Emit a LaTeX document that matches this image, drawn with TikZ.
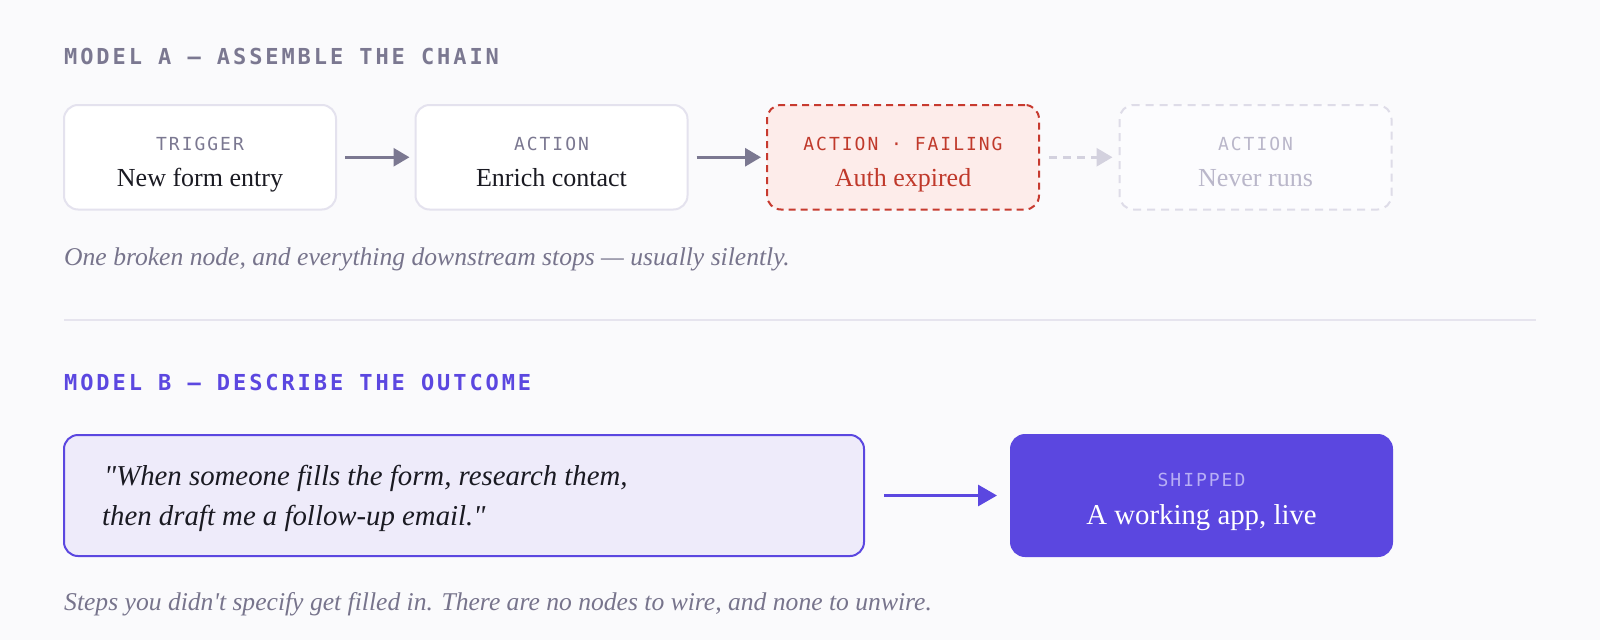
\documentclass[tikz,border=0pt]{standalone}
\usepackage{fontspec}
\setmainfont{Liberation Serif}
\newfontfamily\labfont[LetterSpace=11]{DejaVu Sans Mono}
\newfontfamily\headfont[LetterSpace=13.2]{DejaVu Sans Mono}
\newfontfamily\plainserif[Ligatures=TeXOff]{Liberation Serif}
\usetikzlibrary{arrows.meta}
\definecolor{bgc}{HTML}{FAFAFC}
\definecolor{cardline}{HTML}{E4E2EE}
\definecolor{graytxt}{HTML}{7B7891}
\definecolor{inktxt}{HTML}{1A1A22}
\definecolor{failfill}{HTML}{FDECEA}
\definecolor{failline}{HTML}{C73A2F}
\definecolor{failtxt}{HTML}{C0392B}
\definecolor{ghostline}{HTML}{DEDCE8}
\definecolor{ghostfill}{HTML}{FCFCFE}
\definecolor{ghosttxt}{HTML}{BAB7CA}
\definecolor{ghostarrow}{HTML}{D3D1DE}
\definecolor{indigo}{HTML}{5B47E0}
\definecolor{lilac}{HTML}{EEEBFA}
\definecolor{shiplab}{HTML}{B8AFF5}
\definecolor{captxt}{HTML}{77748C}
\definecolor{divider}{HTML}{E6E4EE}
\tikzset{
  card/.style={draw=cardline, fill=white, line width=2pt, rounded corners=14pt,
    minimum width=272pt, minimum height=104.5pt, inner sep=0pt},
  failcard/.style={card, draw=failline, fill=failfill, dash pattern=on 7pt off 5pt},
  ghostcard/.style={card, draw=ghostline, fill=ghostfill, dash pattern=on 8pt off 6pt},
  bigbox/.style={draw=indigo, line width=2pt, rounded corners=14pt, inner sep=0pt,
    minimum height=121pt},
  lab/.style={anchor=base, inner sep=0pt, font=\labfont\fontsize{18}{22}\selectfont, text=graytxt},
  maintxt/.style={anchor=base, inner sep=0pt, font=\fontsize{26}{30}\selectfont, text=inktxt},
  head/.style={anchor=base west, inner sep=0pt, font=\headfont\bfseries\fontsize{22}{26}\selectfont},
  captext/.style={anchor=base west, inner sep=0pt, font=\plainserif\itshape\fontsize{25.6}{30}\selectfont, text=captxt},
  quotetxt/.style={anchor=base west, inner sep=0pt, font=\plainserif\itshape\fontsize{28.8}{32}\selectfont, text=inktxt},
  flow/.style={draw=graytxt, line width=3pt, -{Triangle[length=16pt,width=18pt]},
    shorten <=8pt, shorten >=5pt},
  ghostflow/.style={draw=ghostarrow, line width=3pt, dash pattern=on 8pt off 6pt,
    -{Triangle[length=16pt,width=18pt]}, shorten <=9pt, shorten >=6pt},
  bigflow/.style={draw=indigo, line width=3pt, -{Triangle[length=19pt,width=21pt]},
    shorten <=19pt, shorten >=13pt}
}
\begin{document}
\begin{tikzpicture}[x=1pt,y=-1pt]
\useasboundingbox (0,0) rectangle (1600,640);
\fill[bgc] (0,0) rectangle (1600,640);

% Model A
\node[head, text=graytxt] (headA) at (64,64) {MODEL A — ASSEMBLE THE CHAIN};

\node[card] (trig) at (200,157.25) {};
\node[card] (enr) at (551.5,157.25) {};
\node[failcard] (fail) at (903,157.25) {};
\node[ghostcard] (never) at (1255.5,157.25) {};

\node[lab] (trigL) at (200,150.7) {TRIGGER};
\node[maintxt] (trigM) at (200,186.7) {New form entry};
\node[lab] (enrL) at (551.5,150.7) {ACTION};
\node[maintxt] (enrM) at (551.5,186.7) {Enrich contact};
\node[lab, text=failtxt] (failL) at (903,150.7) {ACTION · FAILING};
\node[maintxt, text=failtxt] (failM) at (903,186.7) {Auth expired};
\node[lab, text=ghosttxt] (neverL) at (1255.5,150.7) {ACTION};
\node[maintxt, text=ghosttxt] (neverM) at (1255.5,186.7) {Never runs};

\draw[flow] (trig) -- (enr);
\draw[flow] (enr) -- (fail);
\draw[ghostflow] (fail) -- (never);

\node[captext] (capA) at (64,265) {One broken node, and everything downstream stops — usually silently.};

\coordinate (divL) at (64,319.5);
\coordinate (divR) at (1536,319.5);
\draw[divider, line width=2pt] (divL) -- (divR);

% Model B
\node[head, text=indigo] (headB) at (64,390.7) {MODEL B — DESCRIBE THE OUTCOME};

\node[bigbox, fill=lilac, minimum width=800pt] (prompt) at (464,495.5) {};
\node[quotetxt] (q1) at (104,485) {"When someone fills the form, research them,};
\node[quotetxt] (q2) at (102,525) {then draft me a follow-up email."};

\node[bigbox, fill=indigo, minimum width=381pt] (ship) at (1201.5,495.5) {};
\node[lab, text=shiplab] (shipL) at (1201.5,486) {SHIPPED};
\node[maintxt, text=white, font=\fontsize{28.8}{32}\selectfont] (shipM) at (1201.5,524) {A working app, live};

\draw[bigflow] (prompt) -- (ship);

\node[captext] (capB) at (64,610) {Steps you didn't specify get filled in. There are no nodes to wire, and none to unwire.};
\end{tikzpicture}
\end{document}
